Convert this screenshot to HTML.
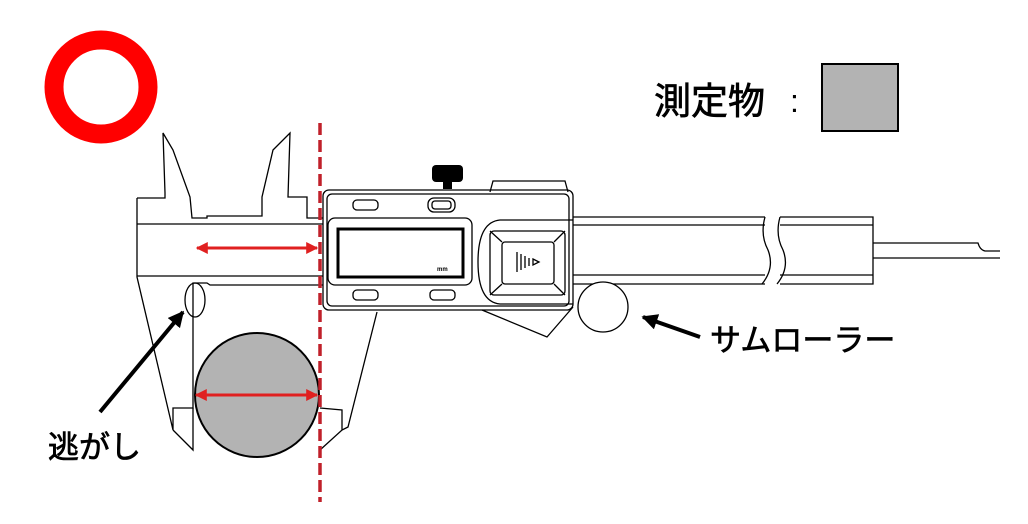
<!DOCTYPE html>
<html><head><meta charset="utf-8"><style>
html,body{margin:0;padding:0;background:#fff;}
svg{display:block;}
text{font-family:"Liberation Sans","Noto Sans CJK JP",sans-serif;}
.t{stroke:#000;stroke-width:0.7;}
</style></head><body>
<svg width="1028" height="524" viewBox="0 0 1028 524" xmlns="http://www.w3.org/2000/svg">
<defs>
<marker id="ra" viewBox="0 0 10 10" refX="9" refY="5" markerWidth="4" markerHeight="4" orient="auto-start-reverse"><path d="M0,0L10,5L0,10z" fill="#e02020"/></marker>
<marker id="ba" viewBox="0 0 10 10" refX="9" refY="5" markerWidth="4" markerHeight="4" orient="auto"><path d="M0,0L10,5L0,10z" fill="#000"/></marker>
</defs>
<circle cx="101" cy="87" r="47" fill="none" stroke="#f00" stroke-width="19"/>
<text class="t" x="654" y="114" font-size="37">測定物</text>
<text x="790" y="112" font-size="32">:</text>
<rect x="822" y="64" width="76" height="67" fill="#b3b3b3" stroke="#000" stroke-width="2"/>
<g fill="none" stroke="#000" stroke-width="1.3">
<path d="M137,198 L165,198 L165,193 L163,133 L173,150 L190,197 L192,218 L207,218 L207,216 L262,216 L262,197 L273,150 L290,133 L288,197 L307,197 L307,218 L323,218"/>
<path d="M137,198 L137,277 L173,430 L173,408 L193,408 L193,283 L207,283 L210,285 L323,285"/>
<path d="M173,430 L193,450 L193,408"/>
<path d="M137,224 L323,224 M137,276 L323,276"/>
<path d="M377,312 L348,427 L342,430 L320,450 M342,430 L342,410 L320,408"/>
<rect x="323" y="190" width="250" height="120" rx="6"/>
<rect x="327" y="194" width="242" height="112" rx="5"/>
<path d="M490,192 L493,181 L565,181 L568,192"/>
<rect x="328" y="218" width="144" height="67" rx="7"/>
<rect x="338" y="229" width="125" height="48" stroke-width="3"/>
<rect x="353" y="200" width="25" height="10" rx="4"/>
<rect x="428" y="198" width="27" height="14" rx="6"/>
<rect x="432" y="201" width="19" height="8" rx="3"/>
<rect x="353" y="290" width="25" height="10" rx="4"/>
<rect x="430" y="290" width="25" height="10" rx="4"/>
<path d="M573,220 L500,220 Q478,222 478,262 Q478,302 500,304 L573,304"/>
<rect x="490" y="231" width="75" height="64" rx="4"/>
<rect x="502" y="242" width="52" height="42" rx="3"/>
<path d="M490,231 L502,242 M565,231 L554,242 M490,295 L502,284 M565,295 L554,284"/>
<path d="M517,252 L517,272 M521,254 L521,270 M525,256 L525,268 M529,258 L529,266 M533,259 L539,262 L533,265 Z"/>
<path d="M482,310 L547,337 L573,307"/>
<path d="M573,217 L765,217 M573,225 L765,225 M573,275 L765,275 M573,284 L765,284"/>
<path d="M765,217 Q760,235 768,250 Q775,268 762,284"/>
<path d="M780,217 Q775,235 783,250 Q790,268 777,284"/>
<path d="M780,217 L873,217 L873,284 L780,284 M780,225 L873,225 M780,275 L873,275"/>
<path d="M873,243 L978,243 Q980,250 985,251 L1000,251 M873,258 L1000,258"/>
<circle cx="603" cy="307" r="25" fill="#fff"/>
<ellipse cx="195" cy="300" rx="10" ry="17"/>
</g>
<rect x="432" y="165" width="31" height="17" rx="4" fill="#000"/>
<rect x="443" y="180" width="9" height="9" fill="#000"/>
<text x="437" y="271" font-size="6" font-weight="bold">mm</text>
<circle cx="257" cy="395" r="62" fill="#b3b3b3" stroke="#000" stroke-width="2"/>
<line x1="320" y1="123" x2="320" y2="502" stroke="#c0202a" stroke-width="3.5" stroke-dasharray="12,5"/>
<line x1="197" y1="248" x2="317" y2="248" stroke="#e02020" stroke-width="3" marker-start="url(#ra)" marker-end="url(#ra)"/>
<line x1="196" y1="395" x2="317" y2="395" stroke="#e02020" stroke-width="3" marker-start="url(#ra)" marker-end="url(#ra)"/>
<line x1="100" y1="412" x2="183" y2="312" stroke="#000" stroke-width="4" marker-end="url(#ba)"/>
<line x1="700" y1="337" x2="643" y2="317" stroke="#000" stroke-width="4" marker-end="url(#ba)"/>
<text class="t" x="48" y="458" font-size="31">逃がし</text>
<text class="t" x="710" y="351" font-size="31">サムローラー</text>
</svg>
</body></html>
